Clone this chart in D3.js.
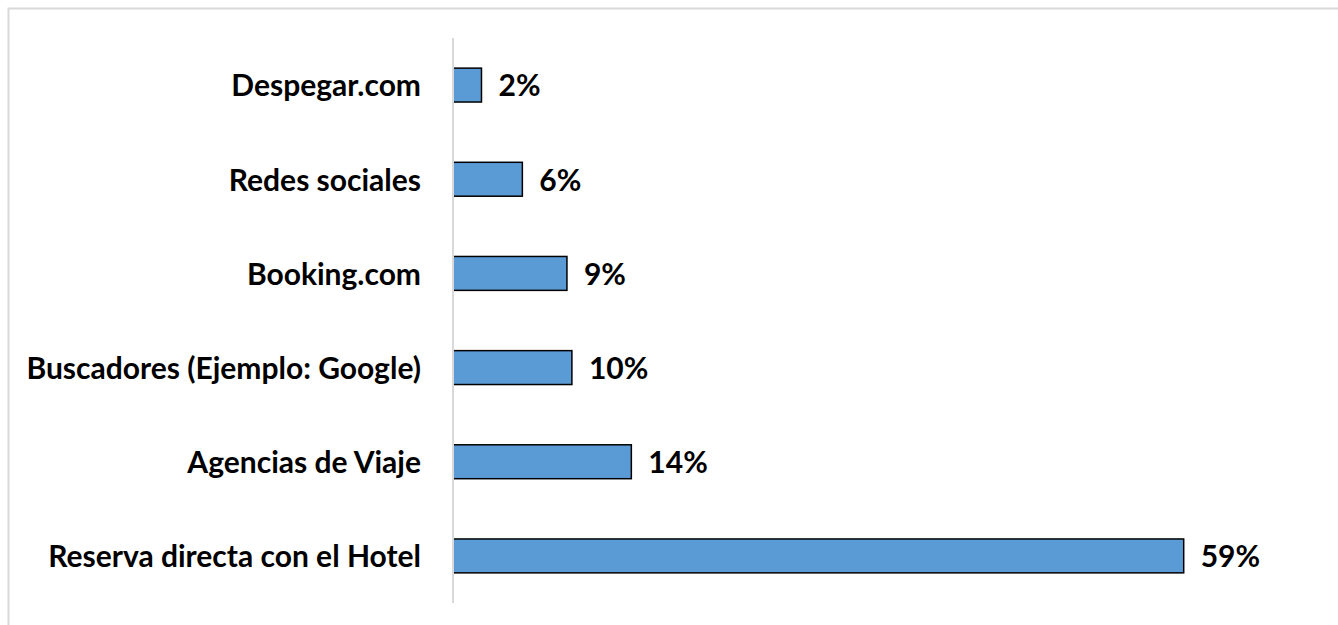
<!DOCTYPE html>
<html>
<head>
<meta charset="utf-8">
<script src="https://cdn.jsdelivr.net/npm/d3@7"></script>
<style>
  body { margin: 0; background: #fff; }
  text { font-family: Lato, "Open Sans", sans-serif; font-weight: bold; fill: #000; }
</style>
</head>
<body>
<svg></svg>
<script>
// categories from top to bottom
let categories = ['Despegar.com', 'Redes sociales', 'Booking.com', 'Buscadores (Ejemplo: Google)', 'Agencias de Viaje', 'Reserva directa con el Hotel'];
// share of answers
let shares = [0.023, 0.056, 0.092, 0.096, 0.144, 0.590];

let data = categories.map((c, i) => ({category: c, share: shares[i]}));

// D3 margin convention
let margin = {top: 38, right: 155, bottom: 22, left: 453};
let width = 1338 - margin.left - margin.right;
let height = 625 - margin.top - margin.bottom;
let fontSize = '30px';

let svg = d3.select('svg')
  .attr('width', 1338)
  .attr('height', 625);

// chart frame, cut off at right and bottom like the original
svg.append('rect')
  .attr('x', 8.5).attr('y', 8.5)
  .attr('width', 1340).attr('height', 630)
  .attr('fill', 'none')
  .attr('stroke', '#d9d9d9')
  .attr('stroke-width', 2);

let g = svg.append('g')
  .attr('transform', `translate(${margin.left},${margin.top})`);

let xScale = d3.scaleLinear().domain([0, 0.59]).range([0, 730.7]);
let yScale = d3.scaleBand()
  .domain(categories)
  .range([0, height])
  .paddingInner(0.64)
  .paddingOuter(0.32);

g.selectAll('.bar')
  .data(data)
  .enter().append('rect')
  .attr('class', 'bar')
  .attr('x', 0)
  .attr('y', (d) => yScale(d.category))
  .attr('width', (d) => xScale(d.share))
  .attr('height', yScale.bandwidth())
  .attr('fill', '#5b9bd5')
  .attr('stroke', '#000')
  .attr('stroke-width', 1.5);

// value labels
g.selectAll('.val')
  .data(data)
  .enter().append('text')
  .attr('class', 'val')
  .attr('x', (d) => xScale(d.share) + 17)
  .attr('y', (d) => yScale(d.category) + yScale.bandwidth() / 2)
  .attr('dy', '0.38em')
  .style('font-size', fontSize)
  .text((d) => d3.format('.0%')(d.share));

// category axis
let yAxis = g.append('g')
  .call(d3.axisLeft(yScale).tickSize(0).tickPadding(32));
yAxis.select('.domain')
  .attr('d', `M0,0V${height}`)
  .attr('stroke', '#d9d9d9')
  .attr('stroke-width', 2);
yAxis.selectAll('text')
  .attr('dy', '0.38em')
  .style('font-size', fontSize)
  .style('font-family', 'Lato, "Open Sans", sans-serif')
  .style('font-weight', 'bold')
  .attr('fill', '#000');
</script>
</body>
</html>
